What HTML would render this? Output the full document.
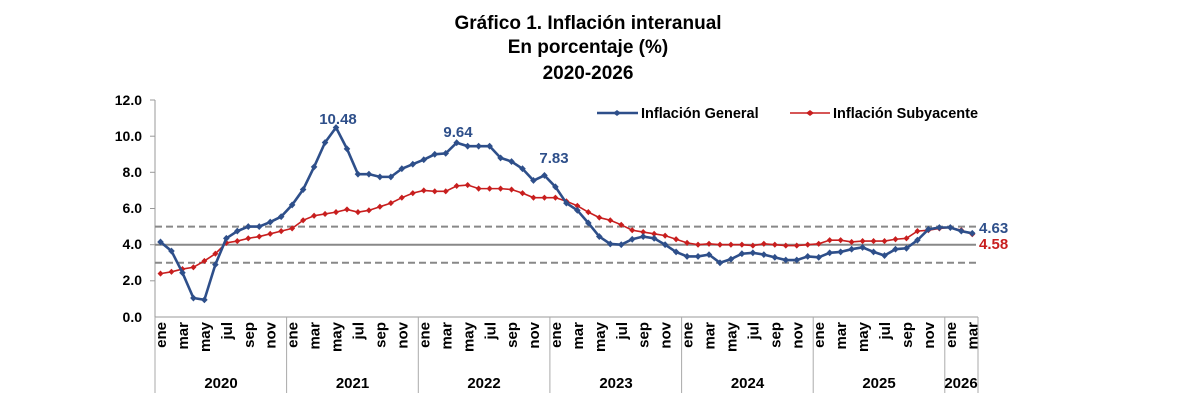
<!DOCTYPE html>
<html><head><meta charset="utf-8"><style>
html,body{margin:0;padding:0;background:#fff;}
svg{display:block;font-family:"Liberation Sans",Arial,sans-serif;font-weight:bold;}
</style></head><body>
<svg width="1179" height="418" viewBox="0 0 1179 418" xmlns="http://www.w3.org/2000/svg">
<rect width="1179" height="418" fill="#fff"/>
<g text-anchor="middle" font-size="19" fill="#000">
<text x="588" y="29">Gráfico 1. Inflación interanual</text>
<text x="588" y="53">En porcentaje (%)</text>
<text x="588" y="79">2020-2026</text>
</g>
<g font-size="14.5">
<line x1="597" y1="113" x2="638" y2="113" stroke="#2E4F8A" stroke-width="2.5"/>
<path d="M613,113 l4,-3 4,3 -4,3z" fill="#2E4F8A"/>
<text x="641" y="118" fill="#000">Inflación General</text>
<line x1="790" y1="113" x2="830" y2="113" stroke="#C81E1E" stroke-width="1.5"/>
<path d="M806,113 l4,-3 4,3 -4,3z" fill="#C81E1E"/>
<text x="833" y="118" fill="#000">Inflación Subyacente</text>
</g>
<line x1="155" y1="100" x2="155" y2="317" stroke="#999" stroke-width="1"/>
<g stroke="#999"><line x1="150" y1="100" x2="155" y2="100"/><line x1="150" y1="136.2" x2="155" y2="136.2"/><line x1="150" y1="172.3" x2="155" y2="172.3"/><line x1="150" y1="208.5" x2="155" y2="208.5"/><line x1="150" y1="244.7" x2="155" y2="244.7"/><line x1="150" y1="280.8" x2="155" y2="280.8"/></g>
<g font-size="14" text-anchor="end" fill="#000">
<text x="142" y="105">12.0</text><text x="142" y="141">10.0</text><text x="142" y="177">8.0</text><text x="142" y="213">6.0</text><text x="142" y="249">4.0</text><text x="142" y="285">2.0</text><text x="142" y="322">0.0</text>
</g>
<line x1="155" y1="226.6" x2="976" y2="226.6" stroke="#888" stroke-width="2" stroke-dasharray="7,4"/>
<line x1="155" y1="244.7" x2="976" y2="244.7" stroke="#888" stroke-width="2"/>
<line x1="155" y1="262.8" x2="976" y2="262.8" stroke="#888" stroke-width="2" stroke-dasharray="7,4"/>
<line x1="155" y1="317" x2="978" y2="317" stroke="#999"/>
<g stroke="#aaa"><line x1="155" y1="317" x2="155" y2="393"/><line x1="286.6" y1="317" x2="286.6" y2="393"/><line x1="418.3" y1="317" x2="418.3" y2="393"/><line x1="549.9" y1="317" x2="549.9" y2="393"/><line x1="681.6" y1="317" x2="681.6" y2="393"/><line x1="813.2" y1="317" x2="813.2" y2="393"/><line x1="944.8" y1="317" x2="944.8" y2="393"/><line x1="978" y1="317" x2="978" y2="393"/></g>
<defs>
<g id="m6" font-size="15" text-anchor="end" fill="#000">
<text transform="translate(166,322) rotate(-90)">ene</text>
<text transform="translate(188,322) rotate(-90)">mar</text>
<text transform="translate(210,322) rotate(-90)">may</text>
<text transform="translate(232,322) rotate(-90)">jul</text>
<text transform="translate(253.8,322) rotate(-90)">sep</text>
<text transform="translate(275.7,322) rotate(-90)">nov</text>
</g>
</defs>
<use href="#m6"/>
<use href="#m6" transform="translate(131.64,0)"/>
<use href="#m6" transform="translate(263.28,0)"/>
<use href="#m6" transform="translate(394.92,0)"/>
<use href="#m6" transform="translate(526.56,0)"/>
<use href="#m6" transform="translate(658.2,0)"/>
<g font-size="15" text-anchor="end" fill="#000">
<text transform="translate(955.8,322) rotate(-90)">ene</text>
<text transform="translate(977.7,322) rotate(-90)">mar</text>
</g>
<g font-size="15" text-anchor="middle" fill="#000">
<text x="221" y="388">2020</text><text x="352.5" y="388">2021</text><text x="484" y="388">2022</text><text x="616" y="388">2023</text><text x="747.5" y="388">2024</text><text x="879" y="388">2025</text><text x="961" y="388">2026</text>
</g>
<defs>
<marker id="db" markerUnits="userSpaceOnUse" refX="0" refY="0" markerWidth="1" markerHeight="1" overflow="visible"><path d="M-0.3,0 L0,0.19 L0.3,0 L0,-0.19Z" fill="#2E4F8A"/></marker>
<marker id="dr" markerUnits="userSpaceOnUse" refX="0" refY="0" markerWidth="1" markerHeight="1" overflow="visible"><path d="M-0.27,0 L0,0.17 L0.27,0 L0,-0.17Z" fill="#C81E1E"/></marker>
</defs>
<g transform="translate(160.5,317) scale(10.97,-18.08)">
<polyline fill="none" stroke="#C81E1E" stroke-width="1.6" vector-effect="non-scaling-stroke" marker-start="url(#dr)" marker-mid="url(#dr)" marker-end="url(#dr)" points="0,2.4 1,2.5 2,2.65 3,2.75 4,3.1 5,3.5 6,4.1 7,4.2 8,4.35 9,4.45 10,4.6 11,4.75 12,4.9 13,5.35 14,5.6 15,5.7 16,5.8 17,5.95 18,5.8 19,5.9 20,6.1 21,6.3 22,6.6 23,6.85 24,7.0 25,6.95 26,6.95 27,7.25 28,7.3 29,7.1 30,7.1 31,7.1 32,7.05 33,6.85 34,6.6 35,6.6 36,6.6 37,6.4 38,6.15 39,5.8 40,5.5 41,5.35 42,5.1 43,4.8 44,4.7 45,4.6 46,4.5 47,4.3 48,4.1 49,4.0 50,4.05 51,4.0 52,4.0 53,4.0 54,3.95 55,4.05 56,4.0 57,3.95 58,3.95 59,4.0 60,4.05 61,4.25 62,4.25 63,4.15 64,4.2 65,4.2 66,4.2 67,4.3 68,4.35 69,4.75 70,4.8 71,4.9 72,4.95 73,4.8 74,4.58"/>
<polyline fill="none" stroke="#2E4F8A" stroke-width="2.6" vector-effect="non-scaling-stroke" marker-start="url(#db)" marker-mid="url(#db)" marker-end="url(#db)" points="0,4.15 1,3.65 2,2.45 3,1.05 4,0.95 5,2.9 6,4.35 7,4.75 8,5.0 9,5.0 10,5.25 11,5.55 12,6.2 13,7.05 14,8.3 15,9.65 16,10.48 17,9.3 18,7.9 19,7.9 20,7.75 21,7.75 22,8.2 23,8.45 24,8.7 25,9.0 26,9.05 27,9.64 28,9.45 29,9.45 30,9.45 31,8.8 32,8.6 33,8.2 34,7.55 35,7.83 36,7.2 37,6.3 38,5.9 39,5.2 40,4.45 41,4.04 42,4.0 43,4.3 44,4.45 45,4.35 46,4.0 47,3.6 48,3.35 49,3.35 50,3.45 51,3.0 52,3.2 53,3.5 54,3.55 55,3.45 56,3.3 57,3.15 58,3.15 59,3.35 60,3.3 61,3.55 62,3.6 63,3.75 64,3.85 65,3.6 66,3.4 67,3.75 68,3.8 69,4.25 70,4.85 71,4.95 72,4.95 73,4.75 74,4.63"/>
</g>
<g font-size="15">
<text x="338" y="124" text-anchor="middle" fill="#2E4F8A">10.48</text>
<text x="458" y="137" text-anchor="middle" fill="#2E4F8A">9.64</text>
<text x="554" y="163" text-anchor="middle" fill="#2E4F8A">7.83</text>
<text x="979" y="233" fill="#2E4F8A">4.63</text>
<text x="979" y="249" fill="#C81E1E">4.58</text>
</g>
</svg>
</body></html>
